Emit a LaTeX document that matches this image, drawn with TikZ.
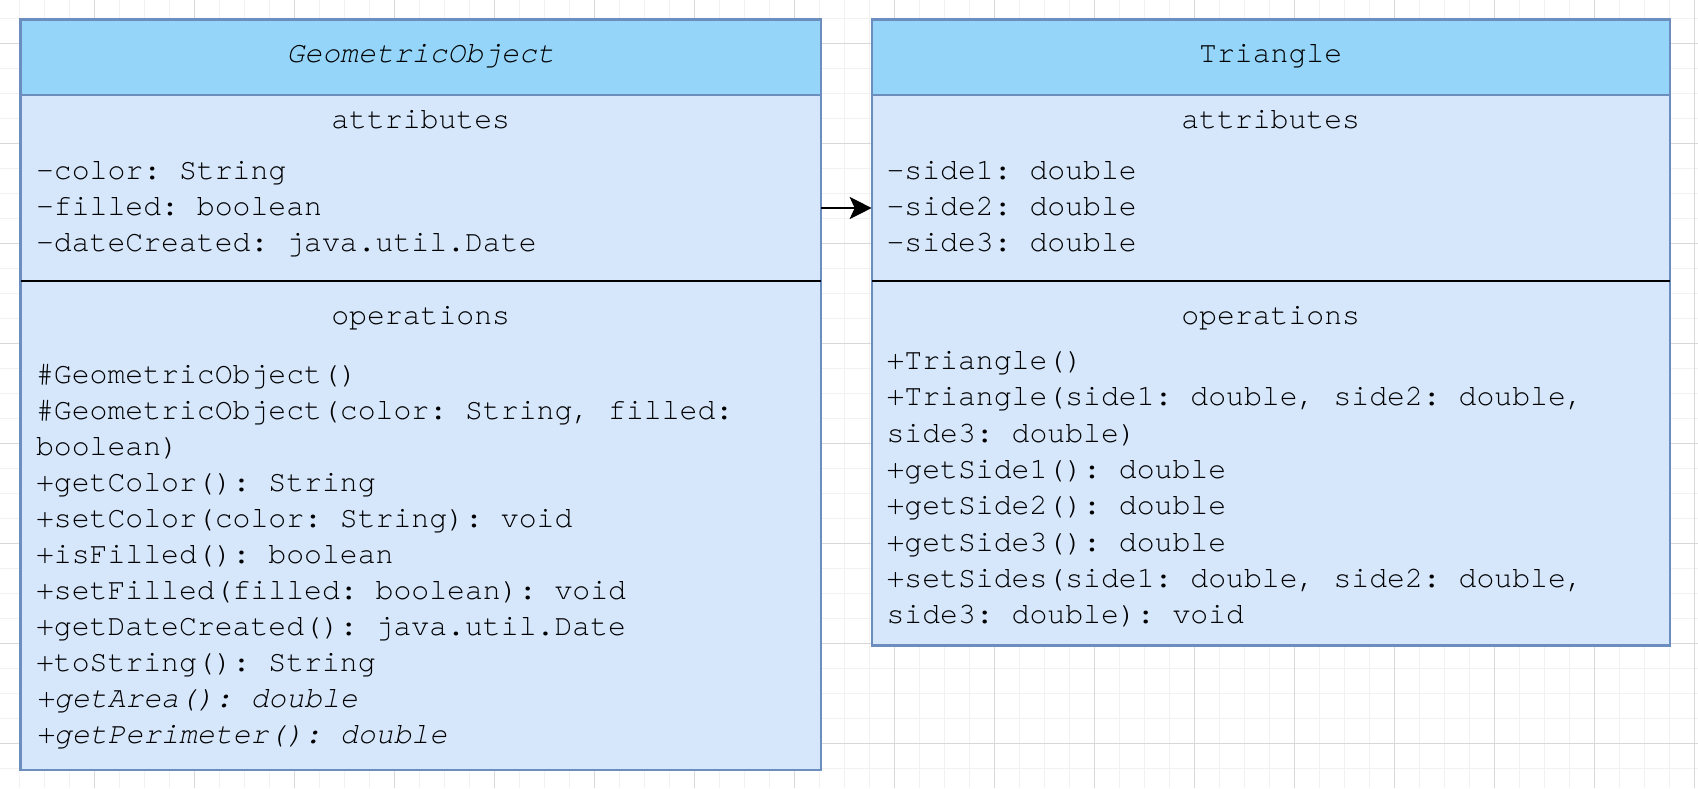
\documentclass[tikz,border=0pt]{standalone}
\usepackage{fontspec}
\setmonofont{texgyrecursor-regular.otf}[ItalicFont=texgyrecursor-italic.otf,Ligatures={NoCommon,NoRequired,NoContextual}]
\usetikzlibrary{arrows.meta}
\definecolor{gridminor}{HTML}{F1F1F1}
\definecolor{gridmajor}{HTML}{D8D8D8}
\definecolor{headfill}{HTML}{94D5F9}
\definecolor{bodyfill}{HTML}{D6E7FC}
\definecolor{boxstroke}{HTML}{6C8EBF}
\begin{document}
\begin{tikzpicture}[x=1pt,y=-1pt,
  umltext/.style={font=\ttfamily\fontsize{29.8}{36}\selectfont, inner sep=0pt, outer sep=0pt, text=black},
  umlitalic/.style={font=\ttfamily\itshape\fontsize{29.8}{36}\selectfont, inner sep=0pt, outer sep=0pt, text=black},
  classbody/.style={draw=boxstroke, fill=bodyfill, line width=2.3pt, inner sep=0pt, outer sep=0pt, anchor=north west},
  classhead/.style={draw=boxstroke, fill=headfill, line width=2.3pt, inner sep=0pt, outer sep=0pt, anchor=north west},
  divider/.style={draw=black, line width=2pt},
  assoc/.style={draw=black, line width=2.6pt, -{Stealth[length=22pt,width=22pt,inset=5pt]}},
  minorgrid/.style={draw=gridminor, line width=1pt},
  majorgrid/.style={draw=gridmajor, line width=1pt}
]
\useasboundingbox (0,0) rectangle (1698,788);
\fill[white] (0,0) rectangle (1698,788);
% grid
\foreach \gx in {19,44,...,1694} \draw[minorgrid] (\gx,0) -- (\gx,788);
\foreach \gy in {18,43,...,768} \draw[minorgrid] (0,\gy) -- (1698,\gy);
\foreach \gx in {94,194,...,1694} \draw[majorgrid] (\gx,0) -- (\gx,788);
\foreach \gy in {43,143,...,743} \draw[majorgrid] (0,\gy) -- (1698,\gy);

% GeometricObject class
\node[classbody, minimum width=800.2, minimum height=750.5] (geo) at (20.6,19.5) {};
\node[classhead, minimum width=800.2, minimum height=75.8] (geohead) at (20.6,19.5) {};
\node[umlitalic, anchor=base] (geotitle) at (420.7,62) {GeometricObject};
\node[umltext, anchor=base] (geoattr) at (420.7,128) {attributes};
\coordinate (divy) at (0,280.5);
\draw[divider] (geo.west |- divy) -- (geo.east |- divy);
\node[umltext, anchor=base] (geoops) at (420.7,324) {operations};
\foreach \t [count=\i from 0] in {{-color: String},{-filled: boolean},{-dateCreated: java.util.Date}}
  \node[umltext, anchor=base west] (ga\i) at (36,{179+36*\i}) {\t};
\foreach \t [count=\i from 0] in {{\#GeometricObject()},{\#GeometricObject(color: String, filled:},{boolean)},{+getColor(): String},{+setColor(color: String): void},{+isFilled(): boolean},{+setFilled(filled: boolean): void},{+getDateCreated(): java.util.Date},{+toString(): String},{\itshape +getArea(): double},{\itshape +getPerimeter(): double}}
  \node[umltext, anchor=base west] (go\i) at (36,{383.7+35.95*\i}) {\t};

% Triangle class
\node[classbody, minimum width=798.1, minimum height=625.9] (tri) at (871.7,19.5) {};
\node[classhead, minimum width=798.1, minimum height=75.8] (trihead) at (871.7,19.5) {};
\node[umltext, anchor=base] (trititle) at (1270.7,62) {Triangle};
\node[umltext, anchor=base] (triattr) at (1270.7,128) {attributes};
\draw[divider] (tri.west |- divy) -- (tri.east |- divy);
\node[umltext, anchor=base] (triops) at (1270.7,324) {operations};
\foreach \t [count=\i from 0] in {{-side1: double},{-side2: double},{-side3: double}}
  \node[umltext, anchor=base west] (ta\i) at (886.5,{179+36*\i}) {\t};
\foreach \t [count=\i from 0] in {{+Triangle()},{+Triangle(side1: double, side2: double,},{side3: double)},{+getSide1(): double},{+getSide2(): double},{+getSide3(): double},{+setSides(side1: double, side2: double,},{side3: double): void}}
  \node[umltext, anchor=base west] (to\i) at (886.5,{369.6+36.3*\i}) {\t};

% connector
\coordinate (arry) at (0,208);
\draw[assoc] (geo.east |- arry) -- (tri.west |- arry);
\end{tikzpicture}
\end{document}
